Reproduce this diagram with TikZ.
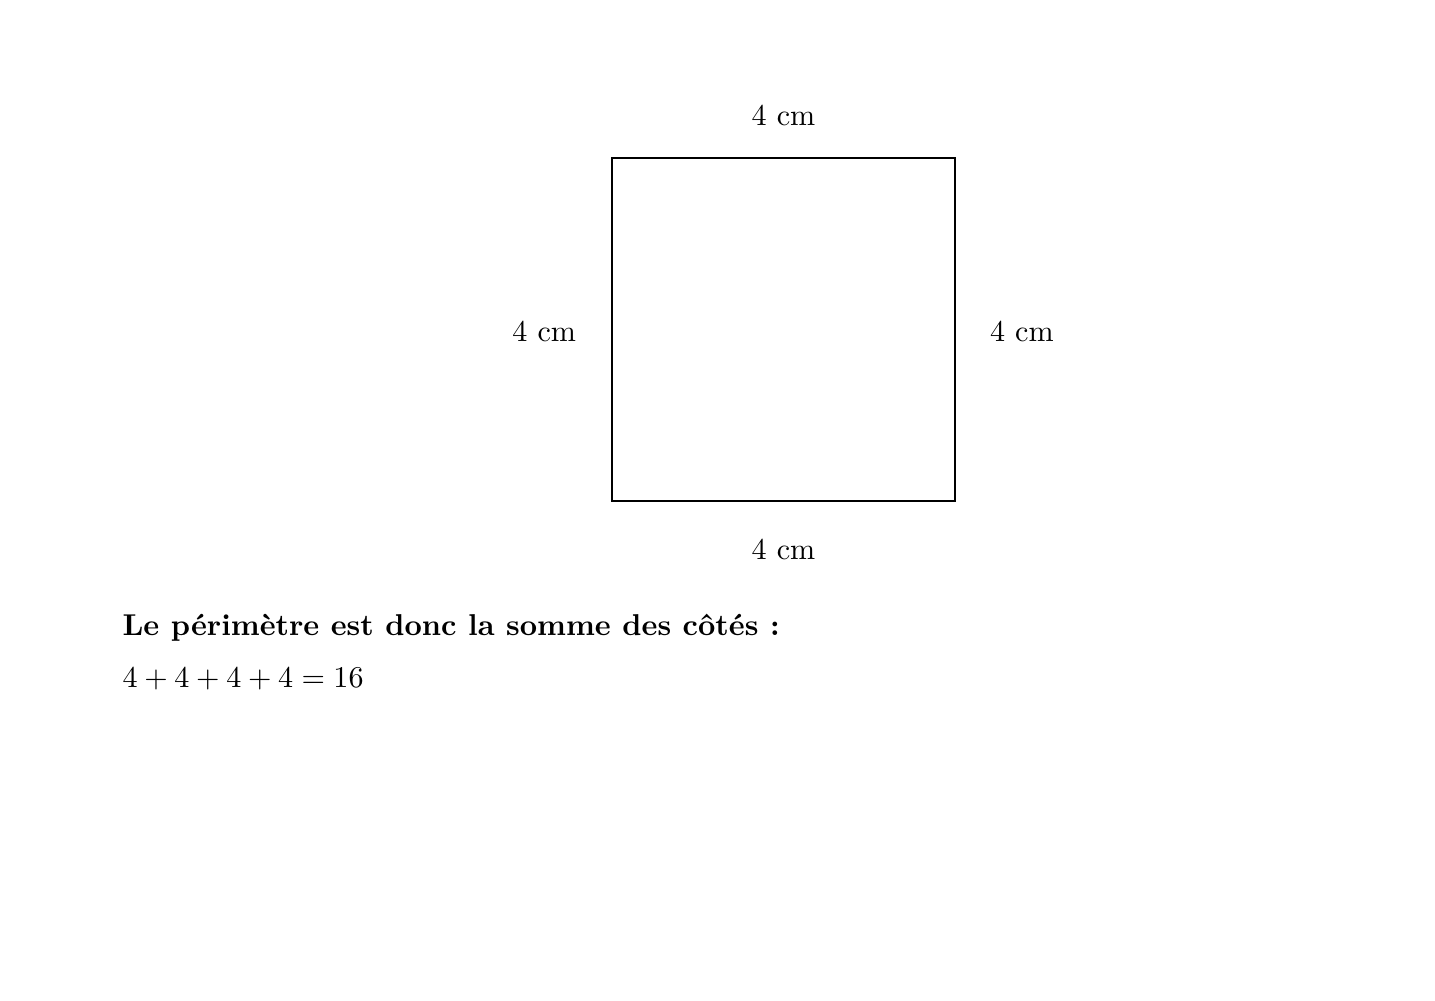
\documentclass[tikz,border=0pt]{standalone}
\usepackage{amsmath, amssymb}

\begin{document}
\begin{tikzpicture}
		\useasboundingbox (-7.137, -5.819) rectangle (9.598, 5.843);
		%%%%%%%%%%%%%
		\coordinate (sw) at (0, 0);
		\coordinate (se) at (4, 0);
		\coordinate (ne) at (4, 4);
		\coordinate (nw) at (0, 4);
		\draw [thick] (sw) -- (se) -- (ne) -- (nw) -- cycle;
		%%%%%%%%%%%%%
		\node (top) at (2, 4.5) {4 cm};
		\node (left) at (-0.79, 1.98) {4 cm};
		\node (right) at (4.78, 1.98) {4 cm};
		\node (bottom) at (2, -0.56) {4 cm};
		%%%%%%%%%%%%%
		\node [anchor=base west, inner sep=0pt] (somme) at (-5.714, -1.563) {\textbf{Le périmètre est donc la somme des côtés :}};
		\node [anchor=base west, inner sep=0pt] (calcul) at (-5.714, -2.169) {$4 + 4 + 4 + 4 = 16$};
	\end{tikzpicture}
\end{document}
